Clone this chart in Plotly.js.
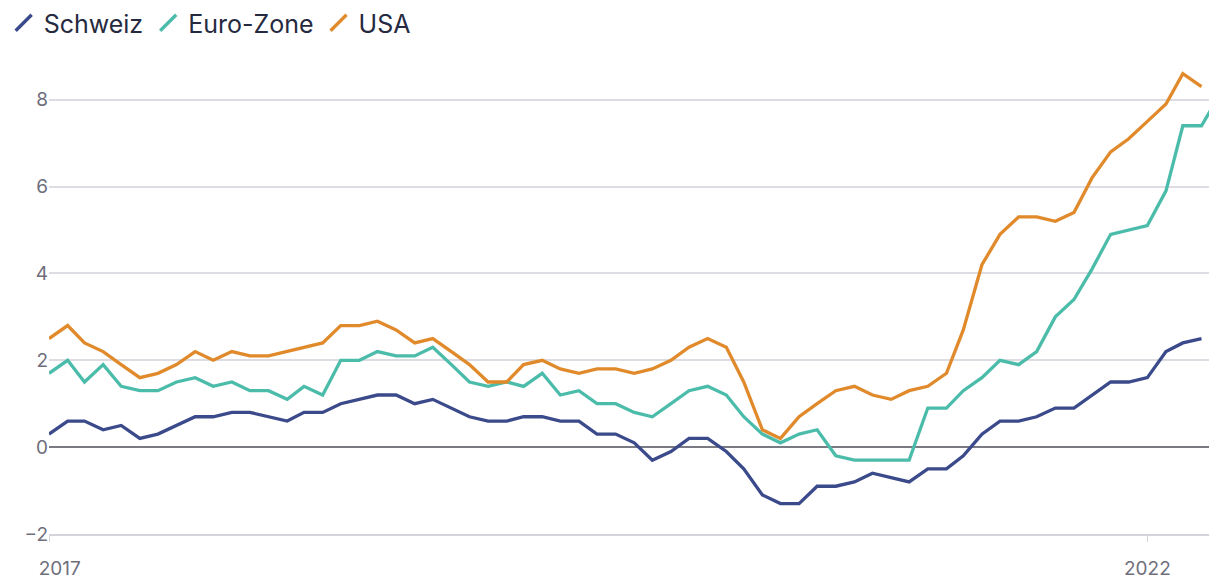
<!DOCTYPE html>
<html>
<head>
<meta charset="utf-8">
<script src="https://cdn.plot.ly/plotly-3.0.1.min.js"></script>
<style>
  html, body { margin: 0; padding: 0; background: #ffffff; }
  #chart { width: 1209px; height: 580px; }
</style>
</head>
<body>
<div id="chart"></div>
<script>
const months = [
  '2017-01','2017-02','2017-03','2017-04','2017-05','2017-06','2017-07','2017-08','2017-09','2017-10','2017-11','2017-12',
  '2018-01','2018-02','2018-03','2018-04','2018-05','2018-06','2018-07','2018-08','2018-09','2018-10','2018-11','2018-12',
  '2019-01','2019-02','2019-03','2019-04','2019-05','2019-06','2019-07','2019-08','2019-09','2019-10','2019-11','2019-12',
  '2020-01','2020-02','2020-03','2020-04','2020-05','2020-06','2020-07','2020-08','2020-09','2020-10','2020-11','2020-12',
  '2021-01','2021-02','2021-03','2021-04','2021-05','2021-06','2021-07','2021-08','2021-09','2021-10','2021-11','2021-12',
  '2022-01','2022-02','2022-03','2022-04','2022-05'
];

const schweiz = [
  0.3, 0.6, 0.6, 0.4, 0.5, 0.2, 0.3, 0.5, 0.7, 0.7, 0.8, 0.8,
  0.7, 0.6, 0.8, 0.8, 1.0, 1.1, 1.2, 1.2, 1.0, 1.1, 0.9, 0.7,
  0.6, 0.6, 0.7, 0.7, 0.6, 0.6, 0.3, 0.3, 0.1, -0.3, -0.1, 0.2,
  0.2, -0.1, -0.5, -1.1, -1.3, -1.3, -0.9, -0.9, -0.8, -0.6, -0.7, -0.8,
  -0.5, -0.5, -0.2, 0.3, 0.6, 0.6, 0.7, 0.9, 0.9, 1.2, 1.5, 1.5,
  1.6, 2.2, 2.4, 2.5
];

const euroZone = [
  1.7, 2.0, 1.5, 1.9, 1.4, 1.3, 1.3, 1.5, 1.6, 1.4, 1.5, 1.3,
  1.3, 1.1, 1.4, 1.2, 2.0, 2.0, 2.2, 2.1, 2.1, 2.3, 1.9, 1.5,
  1.4, 1.5, 1.4, 1.7, 1.2, 1.3, 1.0, 1.0, 0.8, 0.7, 1.0, 1.3,
  1.4, 1.2, 0.7, 0.3, 0.1, 0.3, 0.4, -0.2, -0.3, -0.3, -0.3, -0.3,
  0.9, 0.9, 1.3, 1.6, 2.0, 1.9, 2.2, 3.0, 3.4, 4.1, 4.9, 5.0,
  5.1, 5.9, 7.4, 7.4, 8.1
];

const usa = [
  2.5, 2.8, 2.4, 2.2, 1.9, 1.6, 1.7, 1.9, 2.2, 2.0, 2.2, 2.1,
  2.1, 2.2, 2.3, 2.4, 2.8, 2.8, 2.9, 2.7, 2.4, 2.5, 2.2, 1.9,
  1.5, 1.5, 1.9, 2.0, 1.8, 1.7, 1.8, 1.8, 1.7, 1.8, 2.0, 2.3,
  2.5, 2.3, 1.5, 0.4, 0.2, 0.7, 1.0, 1.3, 1.4, 1.2, 1.1, 1.3,
  1.4, 1.7, 2.7, 4.2, 4.9, 5.3, 5.3, 5.2, 5.4, 6.2, 6.8, 7.1,
  7.5, 7.9, 8.6, 8.3
];

const seriesNames = ['Schweiz', 'Euro-Zone', 'USA'];
const seriesValues = [schweiz, euroZone, usa];
const seriesColors = ['#3b4a8a', '#4cbcaa', '#e08a2b'];

const xTickVals = ['2017-01-01', '2022-01-01'];
const xTickText = ['\u00a0\u00a0\u00a0\u00a02017', '2022'];
const yTickVals = [-2, 0, 2, 4, 6, 8];

const FONT = 'Inter, "Noto Sans", Roboto, sans-serif';

const traces = [];
seriesValues.forEach((vals, i) => {
  traces.push({
    type: 'scatter',
    mode: 'lines',
    x: months.slice(0, vals.length),
    y: vals,
    name: seriesNames[i],
    line: { color: seriesColors[i], width: 3.3 },
    showlegend: false,
    hoverinfo: 'x+y+name'
  });
});
// legend entries (slash symbols)
seriesValues.forEach((vals, i) => {
  traces.push({
    type: 'scatter',
    mode: 'markers',
    x: [null],
    y: [null],
    name: seriesNames[i],
    marker: { symbol: 'line-ne', size: 16, color: seriesColors[i], line: { color: seriesColors[i], width: 3.3 } },
    showlegend: true,
    hoverinfo: 'skip'
  });
});

const layout = {
  width: 1209,
  height: 580,
  margin: { l: 49, r: 0, t: 60, b: 46, pad: 0 },
  paper_bgcolor: '#ffffff',
  plot_bgcolor: '#ffffff',
  font: { family: FONT, color: '#6e6e7c', size: 19 },
  showlegend: true,
  legend: {
    orientation: 'h',
    xref: 'container', yref: 'container',
    x: 0.003, y: 1,
    xanchor: 'left', yanchor: 'top',
    font: { family: FONT, size: 25, color: '#262a40' },
    bgcolor: 'rgba(0,0,0,0)',
    borderwidth: 0,
    itemclick: false,
    itemdoubleclick: false
  },
  xaxis: {
    type: 'date',
    range: ['2017-01-01', '2022-04-13 12:00'],
    tickmode: 'array',
    tickvals: xTickVals,
    ticktext: xTickText,
    ticks: 'outside',
    ticklen: 6,
    tickwidth: 1,
    tickcolor: '#d4d4da',
    ticklabelstandoff: 10,
    showline: true,
    linecolor: '#d4d4da',
    linewidth: 1.5,
    showgrid: false,
    zeroline: false,
    tickfont: { family: FONT, size: 19, color: '#6e6e7c' },
    fixedrange: true
  },
  yaxis: {
    range: [-2, 8.914],
    tickmode: 'array',
    tickvals: yTickVals,
    ticks: '',
    showline: false,
    showgrid: true,
    gridcolor: '#dcdce2',
    gridwidth: 1.5,
    zeroline: true,
    zerolinecolor: '#7a7a82',
    zerolinewidth: 1.5,
    tickfont: { family: FONT, size: 19, color: '#6e6e7c' },
    fixedrange: true
  },
  hovermode: 'closest'
};

Plotly.newPlot('chart', traces, layout, { displayModeBar: false, responsive: false });
</script>
</body>
</html>
